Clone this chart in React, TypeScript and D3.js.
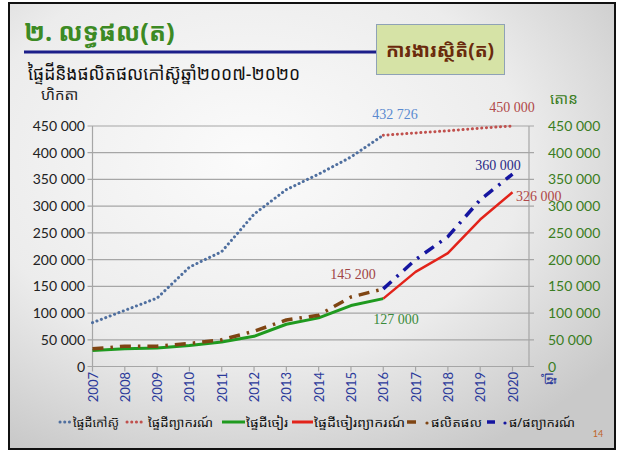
import React from "react";
import * as d3 from "d3";

const years = ["2007","2008","2009","2010","2011","2012","2013","2014","2015","2016","2017","2018","2019","2020"];
const histYears = years.slice(0, 10);
const fcYears = years.slice(9);

const rubberArea = [82000, 105000, 128000, 186000, 215000, 285000, 331000, 360000, 392000, 432726];
const areaForecast = [432726, 437000, 441000, 446000, 450000];
const tappedArea = [30000, 33000, 34500, 39500, 46000, 56500, 79000, 91000, 114000, 127000];
const tappedForecast = [127000, 177000, 212000, 275000, 326000];
const production = [33000, 38000, 38000, 43000, 50000, 66000, 87000, 96000, 130000, 145200];
const productionForecast = [145200, 200000, 243000, 312000, 360000];

const yTicks = [0, 50000, 100000, 150000, 200000, 250000, 300000, 350000, 400000, 450000];

const legendLabels = ["ផ្ទៃដីកៅស៊ូ", "ផ្ទៃដីព្យាករណ៍", "ផ្ទៃដីចៀរ", "ផ្ទៃដីចៀរព្យាករណ៍", "ផលិតផល", "ផ/ផព្យាករណ៍"];

const titleText = "២. លទ្ធផល(ត)";
const boxText = "ការងារស្ថិតិ(ត)";
const subtitleText = "ផ្ទៃដីនិងផលិតផលកៅស៊ូឆ្នាំ២០០៧-២០២០";
const leftUnit = "ហិកតា";
const rightUnit = "តោន";
const xUnit = "ឆ្នាំ";

const KH = "'Khmer OS Siemreap','Khmer OS','Noto Sans Khmer','Noto Serif Khmer','Hanuman',sans-serif";
const NUM = "Lato, 'Liberation Sans', sans-serif";
const SERIF = "'Liberation Serif', 'DejaVu Serif', serif";

const fmt = (v: number) => d3.format(",")(v).replace(/,/g, " ");

export default function App() {
  const W = 623, H = 450;
  const x = d3.scalePoint<string>().domain(years).range([92.5, 512.5]);
  const y = d3.scaleLinear().domain([0, 450000]).range([366.5, 126]);
  const plotL = 92.5, plotR = 529;

  const line = d3.line<[string, number]>().x(d => x(d[0])!).y(d => y(d[1]));
  const mk = (ys: string[], vs: number[]) => line(ys.map((yy, i) => [yy, vs[i]] as [string, number])) || "";

  const series = [
    { d: mk(histYears, rubberArea), stroke: "#4f6f9f", w: 3, dash: "0.1 4.6", cap: "round" },
    { d: mk(fcYears, areaForecast), stroke: "#c0504d", w: 3, dash: "0.1 4.6", cap: "round" },
    { d: mk(histYears, tappedArea), stroke: "#1f9a1f", w: 3, dash: "", cap: "butt" },
    { d: mk(fcYears, tappedForecast), stroke: "#e2231a", w: 2.5, dash: "", cap: "butt" },
    { d: mk(histYears, production), stroke: "#7f4513", w: 3.5, dash: "11 7 2.5 7", cap: "butt" },
    { d: mk(fcYears, productionForecast), stroke: "#1515a0", w: 3.5, dash: "11 7 2.5 7", cap: "butt" },
  ];

  const legendPos = [
    { s0: 60, s1: 70, t: 73, len: 46, type: "dot", stroke: "#4f6f9f" },
    { s0: 127, s1: 145, t: 148, len: 65, type: "dot", stroke: "#c0504d" },
    { s0: 222, s1: 245, t: 246, len: 42, type: "solid", stroke: "#1f9a1f" },
    { s0: 292, s1: 313, t: 314, len: 91, type: "solid", stroke: "#e2231a" },
    { s0: 407, s1: 416, dot: 427, t: 431, len: 51, type: "dd", stroke: "#7f4513" },
    { s0: 487, s1: 495, dot: 505, t: 509, len: 66, type: "dd", stroke: "#1515a0" },
  ];

  return (
    <svg width={W} height={H} style={{ position: "absolute", left: 0, top: 0, display: "block" }}>
      <defs>
        <radialGradient id="bg" cx="40%" cy="35%" r="75%">
          <stop offset="0%" stopColor="#fbfbfb" />
          <stop offset="60%" stopColor="#ececec" />
          <stop offset="100%" stopColor="#c9c9c9" />
        </radialGradient>
      </defs>
      <rect x={0} y={0} width={W} height={H} fill="#ffffff" />
      <rect x={9} y={3} width={606} height={446} fill="url(#bg)" stroke="#111" strokeWidth={2} />

      {/* Title */}
      <text x={24} y={41} fontFamily={KH} fontSize={25} fontWeight="bold" fill="#3c8a24">{titleText}</text>
      <line x1={24} x2={377} y1={52} y2={52} stroke="#1c1f8a" strokeWidth={3} />
      <rect x={376.5} y={24.5} width={128} height={50} fill="#d6e3a6" stroke="#8fa2b6" strokeWidth={1} />
      <text x={440} y={57} textAnchor="middle" fontFamily={KH} fontSize={19} fontWeight="bold" fill="#6a2a0c">{boxText}</text>

      <text x={28} y={80} fontFamily={KH} fontSize={18} fill="#111" textLength={272} lengthAdjust="spacingAndGlyphs">{subtitleText}</text>
      <text x={41} y={100} fontFamily={KH} fontSize={15} fill="#222">{leftUnit}</text>
      <text x={550} y={104} fontFamily={KH} fontSize={15} fill="#3a7d22">{rightUnit}</text>

      {/* grid */}
      {yTicks.map(t => (
        <g key={t}>
          <line x1={plotL - 5} x2={plotR + 5} y1={y(t)} y2={y(t)} stroke="#a6a6a6" strokeWidth={1.2} />
          <text x={85} y={y(t) + 5} textAnchor="end" fontFamily={NUM} fontSize={14} fill="#222">{fmt(t)}</text>
          <text x={548} y={y(t) + 5} textAnchor="start" fontFamily={NUM} fontSize={14} fill="#3a7d22">{fmt(t)}</text>
        </g>
      ))}
      <line x1={plotL} x2={plotL} y1={y(450000)} y2={y(0)} stroke="#a6a6a6" strokeWidth={1.2} />
      <line x1={plotR} x2={plotR} y1={y(450000)} y2={y(0)} stroke="#a6a6a6" strokeWidth={1.2} />
      {years.map(yr => (
        <g key={yr}>
          <line x1={x(yr)} x2={x(yr)} y1={y(0)} y2={y(0) + 5} stroke="#a6a6a6" strokeWidth={1.2} />
          <text transform={`translate(${x(yr)! + 5},${372}) rotate(-90)`} textAnchor="end" fontFamily={NUM} fontSize={13} fill="#2b3a9a">{yr}</text>
        </g>
      ))}
      <text transform={`translate(${553},${372}) rotate(-90)`} textAnchor="end" fontFamily={KH} fontSize={14} fill="#2b3a9a">{xUnit}</text>

      {/* series */}
      {series.map((s, i) => (
        <path key={i} d={s.d} fill="none" stroke={s.stroke} strokeWidth={s.w} strokeDasharray={s.dash || undefined} strokeLinecap={s.cap as any} strokeLinejoin="round" />
      ))}

      {/* data labels */}
      <text x={395} y={119} textAnchor="middle" fontFamily={SERIF} fontSize={14} fill="#5a8ad0">{fmt(rubberArea[9])}</text>
      <text x={512} y={112} textAnchor="middle" fontFamily={SERIF} fontSize={14} fill="#b04848">{fmt(areaForecast[4])}</text>
      <text x={498} y={170} textAnchor="middle" fontFamily={SERIF} fontSize={14} fill="#2a2a86">{fmt(productionForecast[4])}</text>
      <text x={516} y={201} textAnchor="start" fontFamily={SERIF} fontSize={14} fill="#b04848">{fmt(tappedForecast[4])}</text>
      <text x={353} y={279} textAnchor="middle" fontFamily={SERIF} fontSize={14} fill="#a04444">{fmt(production[9])}</text>
      <text x={396} y={324} textAnchor="middle" fontFamily={SERIF} fontSize={14} fill="#3a8a3a">{fmt(tappedArea[9])}</text>

      {/* legend */}
      {legendPos.map((p, i) => (
        <g key={i}>
          {p.type === "dot" && <line x1={p.s0} x2={p.s1} y1={422} y2={422} stroke={p.stroke} strokeWidth={3} strokeDasharray="0.1 4.6" strokeLinecap="round" />}
          {p.type === "solid" && <line x1={p.s0} x2={p.s1} y1={422} y2={422} stroke={p.stroke} strokeWidth={3} />}
          {p.type === "dd" && <>
            <line x1={p.s0} x2={p.s1} y1={422} y2={422} stroke={p.stroke} strokeWidth={3.5} />
            <circle cx={(p as any).dot} cy={423} r={1.6} fill={p.stroke} />
          </>}
          <text x={p.t} y={427} fontFamily={KH} fontSize={12.5} fill="#111" textLength={p.len} lengthAdjust="spacingAndGlyphs">{legendLabels[i]}</text>
        </g>
      ))}
      <text x={598} y={437} textAnchor="middle" fontFamily={NUM} fontSize={9} fill="#c0642a">14</text>
    </svg>
  );
}
